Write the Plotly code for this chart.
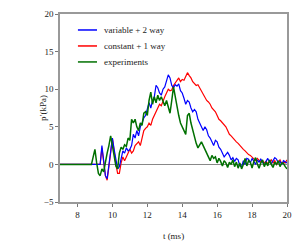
import plotly.graph_objects as go

def grid(start, n):
    return [round(start + 0.1 * i, 2) for i in range(n)]

# experiments (green)
exp_vals = [0.0, 1.0, 2.0, 0.2, -1.2, -1.5, -0.6, -1.0, 0.5, 1.5, 2.5, 3.8, 2.5, 1.0, -0.2, -0.6,
            1.5, 2.3, 2.0, 2.6, 2.4, 3.5, 3.2, 6.0, 5.5, 6.0, 5.0, 4.5, 5.5, 5.2, 6.8, 7.0, 6.5,
            8.5, 9.6, 8.0, 9.0, 8.2, 9.2, 8.5, 9.0, 8.4, 7.8, 8.5, 7.5, 6.8, 8.5, 10.3, 9.0, 7.5,
            6.5, 5.5, 5.0, 4.5, 4.0, 6.5, 6.8, 5.5, 4.5, 3.5, 2.8, 2.2, 2.6, 3.0, 2.5, 2.0, 1.5,
            1.2, 0.5, 1.2, 0.8, 1.0, 0.2, 0.8, 0.4, -0.2, 0.5, 0.2, -0.4, 0.3, 0.0, 0.6, -0.3,
            0.3, -0.5, 0.2, -0.6, 0.0, 0.8, -0.2, 0.5, 0.3, -0.5, 0.4, 0.9, 0.1, -0.5, 0.2, 0.6,
            -0.3, 0.3, -0.2, 0.6, 0.0, -0.4, 0.3, 0.0, 0.5, -0.3, 0.2, 0.1, -0.3, -0.6]
exp_t = [7.0] + grid(8.8, len(exp_vals))
exp_vals = [0.0] + exp_vals

# variable + 2 way (blue)
var_vals = [0.0, 2.5, 0.5, -1.5, -1.9, 0.0, 2.0, 3.5, 2.0, 0.5, -0.6, -0.3, 1.0, 1.8, 1.5, 2.2,
            1.8, 2.0, 2.5, 4.0, 3.5, 4.5, 3.8, 5.0, 5.5, 6.2, 6.5, 7.5, 8.2, 7.5, 8.5, 9.0, 10.5,
            10.2, 9.5, 9.2, 10.0, 10.3, 11.0, 11.9, 11.5, 10.5, 10.2, 10.6, 10.4, 10.7, 9.8, 9.5,
            8.8, 8.0, 8.5, 8.3, 7.5, 7.0, 7.3, 7.0, 6.0, 5.5, 5.0, 4.5, 5.0, 4.6, 3.8, 3.5, 3.0,
            2.5, 3.2, 3.0, 2.3, 2.0, 1.5, 1.0, 1.3, 1.6, 1.2, 0.6, 0.9, 0.4, 0.8, 0.6, -0.2, -0.3,
            0.5, 0.0, 0.8, 0.7, 0.2, 0.8, 0.4, 0.0, 0.6, 0.3, 0.7, 0.2, -0.1, 0.4, 0.8, 0.3, 0.1,
            0.5, 0.9, 0.7, 0.2, 0.4, 0.0, 0.5, 0.3, 0.2]
var_t = [7.0] + grid(9.3, len(var_vals))
var_vals = [0.0] + var_vals

# constant + 1 way (red)
con_vals = [0.0, 0.0, 2.2, 0.5, -1.5, -2.1, -0.5, 1.5, 3.5, 1.5, 0.0, -1.2, -1.2, 0.2, 1.0, 0.5,
            1.0, 1.5, 2.0, 1.5, 1.8, 2.5, 2.8, 3.0, 2.5, 3.5, 4.5, 4.8, 5.0, 5.5, 5.2, 6.0, 6.5,
            7.0, 7.5, 8.0, 7.8, 8.5, 9.0, 9.5, 10.0, 9.8, 9.9, 10.5, 10.8, 11.2, 11.5, 11.0, 11.3,
            11.2, 11.6, 12.2, 11.8, 11.5, 11.0, 10.8, 10.5, 10.6, 10.2, 9.8, 9.5, 9.0, 8.5, 8.3,
            8.0, 7.5, 7.2, 7.0, 6.5, 6.0, 5.8, 5.5, 5.2, 5.0, 4.5, 4.0, 3.8, 3.5, 3.3, 3.0, 2.8,
            2.5, 2.2, 2.0, 1.8, 1.5, 1.3, 1.2, 1.0, 0.8, 0.5, 0.8, 0.6, 0.3, 0.5, 0.2, 0.4, 0.1,
            0.3, 0.6, 0.2, 0.5, 0.0, 0.3, 0.6, 0.1, 0.3, 0.2, 0.6]
con_t = [7.0] + grid(9.2, len(con_vals))
con_vals = [0.0] + con_vals

x_ticks = [8, 10, 12, 14, 16, 18, 20]
y_ticks = [-5, 0, 5, 10, 15, 20]
legend_names = ["variable + 2 way", "constant + 1 way", "experiments"]
legend_colors = ["#0000ff", "#ff0000", "#007000"]

FONT = "Liberation Serif, Times New Roman, serif"

fig = go.Figure()
fig.add_trace(go.Scatter(x=con_t, y=con_vals, mode="lines", line=dict(color=legend_colors[1], width=1.2),
                         name=legend_names[1]))
fig.add_trace(go.Scatter(x=var_t, y=var_vals, mode="lines", line=dict(color=legend_colors[0], width=1.2),
                         name=legend_names[0]))
fig.add_trace(go.Scatter(x=exp_t, y=exp_vals, mode="lines", line=dict(color=legend_colors[2], width=1.5),
                         name=legend_names[2]))

# manual legend
leg_y = [0.915, 0.83, 0.745]
for name, col, yy in zip(legend_names, legend_colors, leg_y):
    fig.add_shape(type="line", xref="paper", yref="paper", x0=0.079, x1=0.163, y0=yy, y1=yy,
                  line=dict(color=col, width=1.5))
    fig.add_annotation(xref="paper", yref="paper", x=0.185, y=yy, text=name, showarrow=False,
                       xanchor="left", yanchor="middle", font=dict(family=FONT, size=9, color="#222"))

# y-axis title placed close to the tick labels
fig.add_annotation(xref="paper", yref="paper", x=0, y=0.5, xshift=-17, text="p′(kPa)", textangle=-90,
                   showarrow=False, xanchor="center", yanchor="middle",
                   font=dict(family=FONT, size=9, color="#222"))

axis_common = dict(showline=True, linecolor="#999999", linewidth=1.5, mirror=True, ticks="outside",
                   ticklen=3, tickcolor="#777777", showgrid=False, automargin=False,
                   tickfont=dict(family=FONT, size=9, color="#222"))

fig.update_layout(
    width=300, height=250,
    margin=dict(l=52, r=21, t=6, b=56),
    paper_bgcolor="white", plot_bgcolor="white",
    showlegend=False,
    xaxis=dict(range=[7, 20], tickvals=x_ticks, zeroline=False,
               title=dict(text="t (ms)", font=dict(family=FONT, size=9, color="#222"), standoff=14),
               **axis_common),
    yaxis=dict(range=[-5, 20], tickvals=y_ticks, tickformat="d",
               zeroline=True, zerolinecolor="#888888", zerolinewidth=1,
               **axis_common),
)

fig.write_html("out.html")
